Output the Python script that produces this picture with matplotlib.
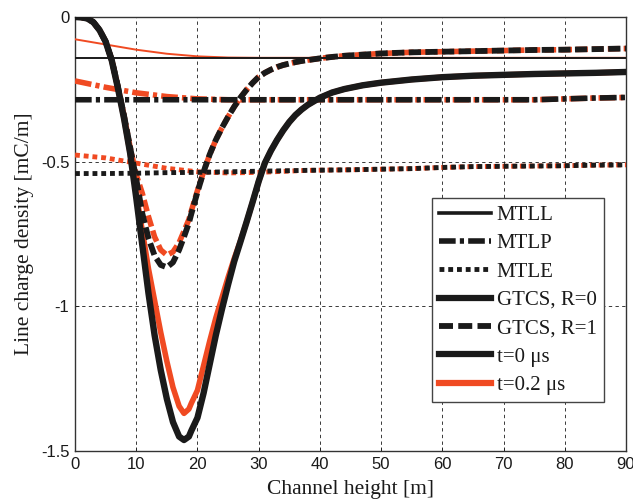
import matplotlib
matplotlib.use("Agg")
import matplotlib.pyplot as plt
from matplotlib.lines import Line2D

# ---------------- data ----------------
# channel height grids [m]
h_flat = [0, 5, 10, 15, 20, 25, 30, 38, 45, 50, 55, 60, 65, 70, 75, 80, 85, 90]

# MTLL line charge density [mC/m]
mtll_t0 = [-0.141] * 18
mtll_t02 = [-0.077, -0.095, -0.113, -0.127, -0.136, -0.140, -0.141, -0.141, -0.141,
            -0.141, -0.141, -0.141, -0.141, -0.141, -0.141, -0.141, -0.141, -0.141]

# MTLP
mtlp_t0 = [-0.286, -0.286, -0.286, -0.286, -0.286, -0.286, -0.286, -0.286, -0.286,
           -0.286, -0.286, -0.286, -0.286, -0.286, -0.286, -0.283, -0.280, -0.278]
mtlp_t02 = [-0.221, -0.243, -0.262, -0.275, -0.283, -0.286, -0.286, -0.286, -0.286,
            -0.286, -0.286, -0.286, -0.286, -0.286, -0.286, -0.283, -0.280, -0.278]

# MTLE
mtle_t0 = [-0.541, -0.541, -0.540, -0.538, -0.537, -0.535, -0.533, -0.530, -0.528,
           -0.526, -0.524, -0.520, -0.517, -0.516, -0.515, -0.514, -0.512, -0.511]
mtle_t02 = [-0.477, -0.487, -0.505, -0.523, -0.535, -0.539, -0.537, -0.530, -0.528,
            -0.526, -0.524, -0.520, -0.517, -0.516, -0.515, -0.514, -0.512, -0.511]

# GTCS grid [m]
h_gtcs = [0, 1, 2, 3, 4, 5, 6, 7, 8, 9, 10, 11, 12, 13, 14, 15, 16, 17, 17.8, 18.6,
          19, 20, 21, 22, 23, 24, 25, 26, 27, 28, 29, 30, 31, 32, 33, 34, 35, 36, 37,
          38, 40, 42, 44, 47, 50, 55, 60, 65, 70, 75, 80, 85, 90]

# GTCS, R=0
gtcs_r0_t0 = [0, -0.001, -0.005, -0.018, -0.045, -0.085, -0.150, -0.245, -0.350, -0.470,
              -0.625, -0.790, -0.955, -1.100, -1.220, -1.320, -1.400, -1.450, -1.462, -1.450,
              -1.430, -1.385, -1.300, -1.200, -1.100, -1.010, -0.925, -0.845, -0.778, -0.710,
              -0.640, -0.568, -0.505, -0.462, -0.425, -0.392, -0.363, -0.339, -0.320,
              -0.304, -0.279, -0.261, -0.249, -0.236, -0.227, -0.216, -0.208, -0.203,
              -0.200, -0.197, -0.195, -0.193, -0.190]
gtcs_r0_t02 = [0, -0.001, -0.005, -0.018, -0.045, -0.085, -0.150, -0.245, -0.350, -0.470,
               -0.610, -0.740, -0.870, -0.980, -1.090, -1.190, -1.280, -1.345, -1.370, -1.355,
               -1.335, -1.290, -1.205, -1.120, -1.040, -0.970, -0.900, -0.835, -0.775, -0.710,
               -0.640, -0.568, -0.505, -0.462, -0.425, -0.392, -0.363, -0.339, -0.320,
               -0.304, -0.279, -0.261, -0.249, -0.236, -0.227, -0.216, -0.208, -0.203,
               -0.200, -0.197, -0.195, -0.193, -0.190]

# GTCS, R=1
gtcs_r1_t0 = [0, -0.001, -0.005, -0.018, -0.045, -0.085, -0.148, -0.240, -0.340, -0.450,
              -0.560, -0.680, -0.765, -0.825, -0.857, -0.865, -0.848, -0.805, -0.760, -0.712,
              -0.680, -0.605, -0.535, -0.475, -0.425, -0.383, -0.345, -0.310, -0.279, -0.252,
              -0.228, -0.207, -0.193, -0.182, -0.173, -0.166, -0.161, -0.156, -0.152,
              -0.149, -0.143, -0.138, -0.134, -0.130, -0.126, -0.122, -0.120, -0.118,
              -0.116, -0.114, -0.113, -0.111, -0.109]
gtcs_r1_t02 = [0, -0.001, -0.005, -0.018, -0.045, -0.085, -0.148, -0.240, -0.340, -0.450,
               -0.545, -0.610, -0.690, -0.760, -0.805, -0.823, -0.812, -0.780, -0.740, -0.700,
               -0.670, -0.600, -0.535, -0.475, -0.425, -0.383, -0.345, -0.310, -0.279, -0.252,
               -0.228, -0.207, -0.193, -0.182, -0.173, -0.166, -0.161, -0.156, -0.152,
               -0.149, -0.143, -0.138, -0.134, -0.130, -0.126, -0.122, -0.120, -0.118,
               -0.116, -0.114, -0.113, -0.111, -0.109]

x_ticks = [0, 10, 20, 30, 40, 50, 60, 70, 80, 90]
y_ticks = [-1.5, -1, -0.5, 0]
y_tick_labels = ["-1.5", "-1", "-0.5", "0"]
legend_labels = ["MTLL", "MTLP", "MTLE", "GTCS, R=0", "GTCS, R=1", "t=0 \u03bcs", "t=0.2 \u03bcs"]

# ---------------- styles ----------------
BLACK = "#1a1a1a"
RED = "#f04a22"
SERIF = ["Liberation Serif", "DejaVu Serif"]
SANS = ["Liberation Sans", "DejaVu Sans"]

ls_mtlp = (0, (3.0, 0.75, 0.75, 0.75))
ls_mtle = (0, (1.0, 0.8))
ls_dash = (0, (2.1, 0.75))

fig = plt.figure(figsize=(6.33, 5.00), dpi=100)
ax = fig.add_axes([0.1185, 0.098, 0.8705, 0.868])

# t = 0.2 us curves (drawn underneath)
ax.plot(h_flat, mtll_t02, color=RED, lw=1.4, zorder=3)
ax.plot(h_flat, mtlp_t02, color=RED, lw=4.0, ls=ls_mtlp, dash_capstyle="butt", zorder=3)
ax.plot(h_flat, mtle_t02, color=RED, lw=3.5, ls=ls_mtle, dash_capstyle="butt", zorder=3)
ax.plot(h_gtcs, gtcs_r0_t02, color=RED, lw=4.0, zorder=3, solid_joinstyle="round")
ax.plot(h_gtcs, gtcs_r1_t02, color=RED, lw=4.0, ls=ls_dash, dash_capstyle="butt", zorder=3)

# t = 0 curves
ax.plot(h_flat, mtll_t0, color=BLACK, lw=1.4, zorder=4)
ax.plot(h_flat, mtlp_t0, color=BLACK, lw=4.0, ls=ls_mtlp, dash_capstyle="butt", zorder=4)
ax.plot(h_flat, mtle_t0, color=BLACK, lw=3.5, ls=ls_mtle, dash_capstyle="butt", zorder=4)
ax.plot(h_gtcs, gtcs_r0_t0, color=BLACK, lw=4.6, zorder=4, solid_joinstyle="round")
ax.plot(h_gtcs, gtcs_r1_t0, color=BLACK, lw=4.2, ls=ls_dash, dash_capstyle="butt", zorder=4)

ax.set_xlim(0, 90)
ax.set_ylim(-1.5, 0)
ax.set_xticks(x_ticks)
ax.set_yticks(y_ticks)
ax.set_yticklabels(y_tick_labels)
ax.tick_params(direction="in", length=3, width=0.6, pad=4, labelsize=12, colors=BLACK)
for lab in ax.get_xticklabels() + ax.get_yticklabels():
    lab.set_family(SANS)

ax.grid(True, color=BLACK, lw=0.6, ls=(0, (4, 4)))
ax.set_axisbelow(True)
for sp in ax.spines.values():
    sp.set_linewidth(1.0)
    sp.set_color("#333333")

ax.set_xlabel("Channel height [m]", family=SERIF, fontsize=15.5, labelpad=6, color=BLACK)
ax.set_ylabel("Line charge density [mC/m]", family=SERIF, fontsize=15.5, labelpad=5, color=BLACK)

handles = [
    Line2D([], [], color=BLACK, lw=2.6),
    Line2D([], [], color=BLACK, lw=4.0, ls=ls_mtlp, dash_capstyle="butt"),
    Line2D([], [], color=BLACK, lw=3.5, ls=ls_mtle, dash_capstyle="butt"),
    Line2D([], [], color=BLACK, lw=4.5),
    Line2D([], [], color=BLACK, lw=4.2, ls=(0, (2.4, 0.9)), dash_capstyle="butt"),
    Line2D([], [], color=BLACK, lw=4.5),
    Line2D([], [], color=RED, lw=4.5),
]
leg = ax.legend(handles, legend_labels, loc="upper left", bbox_to_anchor=(0.648, 0.583),
                prop={"family": SERIF, "size": 15}, frameon=True, fancybox=False,
                edgecolor="#444444", framealpha=1.0, handlelength=2.5,
                handletextpad=0.25, labelspacing=0.42, borderpad=0.35,
                borderaxespad=0.0)
leg.get_frame().set_linewidth(1.0)
for t in leg.get_texts():
    t.set_color(BLACK)

fig.savefig("out.png", dpi=100)
